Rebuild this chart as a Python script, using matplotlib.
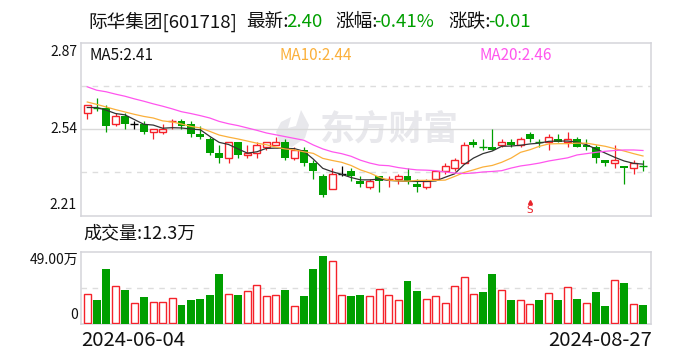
import matplotlib
matplotlib.use('Agg')
import matplotlib.pyplot as plt
from matplotlib.patches import Rectangle, Polygon

plt.rcParams['font.family'] = ['Noto Sans CJK SC', 'DejaVu Sans']

W, H = 688, 360

# Daily candles
opens = [2.60, 2.62, 2.62, 2.56, 2.59, 2.56, 2.56, 2.53, 2.53, 2.57,
         2.57, 2.56, 2.52, 2.50, 2.45, 2.43, 2.49, 2.44, 2.45, 2.47,
         2.48, 2.49, 2.43, 2.46, 2.41, 2.36, 2.31, 2.37, 2.38, 2.34,
         2.32, 2.36, 2.35, 2.35, 2.36, 2.33, 2.32, 2.35, 2.38, 2.39,
         2.41, 2.49, 2.47, 2.47, 2.48, 2.49, 2.48, 2.52, 2.49, 2.49,
         2.50, 2.49, 2.50, 2.48, 2.47, 2.42, 2.41, 2.40, 2.39, 2.40]
closes = [2.63, 2.62, 2.55, 2.59, 2.56, 2.56, 2.53, 2.54, 2.54, 2.57,
          2.55, 2.52, 2.51, 2.45, 2.43, 2.49, 2.44, 2.45, 2.48, 2.49,
          2.49, 2.43, 2.46, 2.41, 2.38, 2.29, 2.37, 2.37, 2.36, 2.33,
          2.34, 2.34, 2.35, 2.36, 2.34, 2.32, 2.34, 2.38, 2.40, 2.42,
          2.48, 2.48, 2.47, 2.46, 2.49, 2.48, 2.50, 2.50, 2.49, 2.51,
          2.49, 2.50, 2.47, 2.47, 2.43, 2.41, 2.42, 2.39, 2.41, 2.40]
highs = [2.63, 2.66, 2.63, 2.60, 2.60, 2.57, 2.57, 2.54, 2.56, 2.58,
         2.58, 2.57, 2.55, 2.51, 2.48, 2.49, 2.49, 2.48, 2.49, 2.49,
         2.51, 2.50, 2.47, 2.47, 2.42, 2.37, 2.39, 2.40, 2.39, 2.36,
         2.35, 2.36, 2.36, 2.37, 2.39, 2.35, 2.35, 2.38, 2.41, 2.43,
         2.49, 2.50, 2.50, 2.54, 2.50, 2.50, 2.51, 2.53, 2.50, 2.52,
         2.52, 2.53, 2.51, 2.50, 2.48, 2.42, 2.48, 2.40, 2.42, 2.42]
lows = [2.58, 2.61, 2.53, 2.55, 2.54, 2.54, 2.52, 2.50, 2.52, 2.54,
        2.54, 2.51, 2.50, 2.44, 2.41, 2.41, 2.43, 2.43, 2.43, 2.46,
        2.48, 2.42, 2.42, 2.40, 2.35, 2.28, 2.31, 2.36, 2.34, 2.32,
        2.31, 2.30, 2.32, 2.33, 2.33, 2.30, 2.31, 2.35, 2.37, 2.38,
        2.41, 2.47, 2.46, 2.46, 2.47, 2.47, 2.47, 2.49, 2.47, 2.46,
        2.49, 2.47, 2.47, 2.46, 2.41, 2.40, 2.39, 2.33, 2.37, 2.38]

ma5 = [2.622, 2.622, 2.612, 2.599, 2.594, 2.576, 2.558, 2.555, 2.543, 2.545,
       2.544, 2.540, 2.537, 2.512, 2.489, 2.481, 2.464, 2.448, 2.453, 2.466,
       2.467, 2.466, 2.465, 2.455, 2.425, 2.390, 2.377, 2.367, 2.355, 2.346,
       2.346, 2.349, 2.344, 2.342, 2.340, 2.340, 2.340, 2.342, 2.356, 2.369,
       2.404, 2.429, 2.446, 2.456, 2.474, 2.475, 2.478, 2.483, 2.486, 2.493,
       2.494, 2.494, 2.490, 2.480, 2.464, 2.448, 2.432, 2.418, 2.409, 2.406]
ma10 = [2.643, 2.634, 2.624, 2.614, 2.605, 2.596, 2.588, 2.582, 2.571, 2.567,
        2.559, 2.550, 2.544, 2.531, 2.517, 2.509, 2.502, 2.494, 2.486, 2.480,
        2.471, 2.464, 2.460, 2.453, 2.447, 2.428, 2.420, 2.413, 2.401, 2.384,
        2.372, 2.356, 2.345, 2.342, 2.341, 2.344, 2.344, 2.344, 2.345, 2.359,
        2.374, 2.384, 2.395, 2.401, 2.413, 2.429, 2.451, 2.461, 2.474, 2.483,
        2.484, 2.484, 2.486, 2.486, 2.480, 2.474, 2.465, 2.456, 2.446, 2.437]
ma20 = [2.701, 2.688, 2.682, 2.673, 2.665, 2.655, 2.646, 2.636, 2.627, 2.617,
        2.606, 2.599, 2.591, 2.582, 2.569, 2.560, 2.553, 2.544, 2.535, 2.525,
        2.518, 2.511, 2.504, 2.497, 2.479, 2.464, 2.453, 2.446, 2.436, 2.421,
        2.410, 2.402, 2.400, 2.393, 2.388, 2.384, 2.383, 2.381, 2.376, 2.372,
        2.370, 2.372, 2.376, 2.378, 2.381, 2.391, 2.399, 2.404, 2.410, 2.418,
        2.424, 2.430, 2.441, 2.446, 2.451, 2.455, 2.458, 2.460, 2.460, 2.458]

# Volume in 万, and whether the volume bar is red (hollow)
volume = [20.2, 15.7, 37.4, 25.6, 22.5, 14.1, 17.7, 14.7, 14.7, 17.5,
          12.9, 16.3, 17.0, 19.7, 33.4, 20.2, 19.7, 22.2, 26.3, 18.8,
          19.5, 22.5, 12.0, 18.4, 36.8, 45.6, 42.6, 19.5, 18.4, 19.7,
          18.8, 23.6, 19.5, 16.1, 28.6, 21.8, 16.8, 18.8, 14.1, 25.6,
          31.8, 20.2, 21.1, 33.4, 22.9, 15.7, 16.1, 13.4, 16.3, 20.9,
          16.3, 25.0, 17.0, 14.1, 21.1, 11.6, 29.7, 27.9, 13.4, 12.3]
vol_up = "RGGRGRGRRRGGGGGRGRRR" "RGRGGGRRGGRRRRGGRRRR" "RRGGRGRRGRGRGRGGRGRG"

date_labels = ['2024-06-04', '2024-08-27']
price_ticks = ['2.87', '2.54', '2.21']
sell_mark = 47

RED = '#f5222a'
GREEN = '#009f00'
BORDER = '#d4d4da'
DASH = '#dddddd'
ORANGE = '#fbb03b'
PINK = '#ff55ee'

fig = plt.figure(figsize=(W / 100, H / 100), dpi=100)


def make_axes(left, top, right, bottom):
    return fig.add_axes([left / W, 1 - bottom / H, (right - left) / W, (bottom - top) / H])


def label(x, y, s, color='#111111', size=10, ha='left', **kw):
    fig.text(x / W, 1 - y / H, s, color=color, fontsize=size, ha=ha, va='center', **kw)


# x range set so candle i sits at 87 + 9.424 * i pixels
xlim = (-0.72, 59.85)

ax = make_axes(80.5, 42.5, 651, 215.5)
ax.set_xlim(*xlim)
ax.set_ylim(2.21, 2.87)
ax.set_xticks([])
ax.set_yticks([])
for sp in ax.spines.values():
    sp.set_color(BORDER)
    sp.set_linewidth(1.1)

ax.axhline(2.54, color='#d9d9d9', lw=1.0, zorder=1)
ax.axhline(2.705, color=DASH, lw=1.0, ls=(0, (4, 4)), zorder=1)
ax.axhline(2.375, color=DASH, lw=1.0, ls=(0, (4, 4)), zorder=1)

# watermark
ax_px = fig.add_axes([0, 0, 1, 1], zorder=0)
ax_px.set_xlim(0, W)
ax_px.set_ylim(H, 0)
ax_px.axis('off')
ax_px.add_patch(Polygon([(301, 110), (309, 125), (305, 138), (292, 147), (280, 144), (276, 132),
                         (281, 122), (291, 117), (288, 128), (296, 126)],
                        closed=True, facecolor='#e8e8ec', edgecolor='none'))
ax_px.text(320, 129, '东方财富', color='#e8e8ec', fontsize=25, fontweight='bold', va='center', ha='left')
ax.set_zorder(1)
ax.patch.set_alpha(0)

for i in range(len(opens)):
    o, c, h, l = opens[i], closes[i], highs[i], lows[i]
    if o == c and i in (5, 27):
        col = 'black'
    elif c > o or (c == o and vol_up[i] == 'R'):
        col = RED
    else:
        col = GREEN
    ax.plot([i, i], [l, h], color=col, lw=0.9, zorder=2, solid_capstyle='butt')
    if c == o:
        ax.plot([i - 0.42, i + 0.42], [o, o], color=col, lw=1.0, zorder=3, solid_capstyle='butt')
    elif c > o:
        ax.add_patch(Rectangle((i - 0.37, o), 0.74, c - o, facecolor='white', edgecolor=RED, lw=1.0, zorder=3))
    else:
        ax.add_patch(Rectangle((i - 0.42, c), 0.84, o - c, facecolor=GREEN, edgecolor='none', zorder=3))

xs = list(range(len(ma5)))
ax.plot(xs, ma5, color='#333333', lw=0.9, zorder=4)
ax.plot(xs, ma10, color=ORANGE, lw=0.9, zorder=4)
ax.plot(xs, ma20, color=PINK, lw=0.9, zorder=4)

# sell flag
ax.text(sell_mark, 2.213, 'S', color='#e8232a', fontsize=7.5, ha='center', va='bottom',
        family='DejaVu Sans', zorder=5)
ax.plot([sell_mark], [2.262], marker='^', color='#e8232a', ms=2.8, zorder=5)

vx = make_axes(80.5, 251.5, 651, 323.5)
vx.set_xlim(*xlim)
vx.set_ylim(0, 49)
vx.set_xticks([])
vx.set_yticks([])
for sp in vx.spines.values():
    sp.set_color(BORDER)
    sp.set_linewidth(1.1)
vx.axhline(24.5, color=DASH, lw=1.0, ls=(0, (4, 4)), zorder=1)

for i, v in enumerate(volume):
    if vol_up[i] == 'R':
        vx.add_patch(Rectangle((i - 0.37, 0.4), 0.74, v - 0.4, facecolor='white', edgecolor=RED, lw=1.0, zorder=3))
    else:
        vx.add_patch(Rectangle((i - 0.42, 0), 0.84, v, facecolor=GREEN, edgecolor='none', zorder=3))

# header
label(88, 22, '际华集团[601718]', size=13.4)
label(246, 22, '最新:', size=13.4)
label(286, 22, '2.40', color=GREEN, size=13.4)
label(335, 22, '涨幅:', size=13.4)
label(374, 22, '-0.41%', color=GREEN, size=13.4)
label(448, 22, '涨跌:', size=13.4)
label(488, 22, '-0.01', color=GREEN, size=13.4)

label(89.5, 56, 'MA5:2.41', size=11)
label(279.5, 56, 'MA10:2.44', color=ORANGE, size=11)
label(479.5, 56, 'MA20:2.46', color=PINK, size=11)

label(77, 52, price_ticks[0], size=10, ha='right')
label(77, 129, price_ticks[1], size=10, ha='right')
label(77, 205, price_ticks[2], size=10, ha='right')

label(83, 233, '成交量:12.3万', size=13)
label(78, 260, '49.00万', size=10, ha='right')
label(78, 315, '0', size=10, ha='right')

label(81, 341, date_labels[0], size=14.6)
label(652, 341, date_labels[1], size=14.6, ha='right')

fig.savefig('out.png', dpi=100)
